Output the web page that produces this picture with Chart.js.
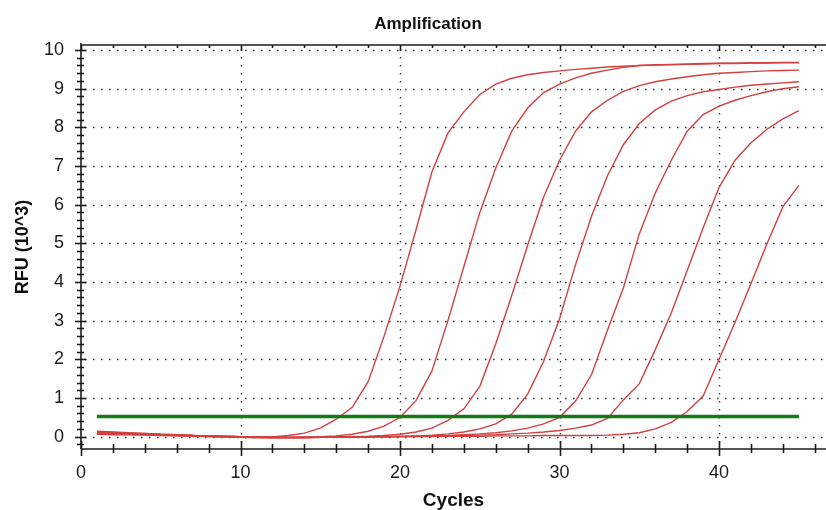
<!DOCTYPE html>
<html>
<head>
<meta charset="utf-8">
<title>Amplification</title>
<script src="https://cdn.jsdelivr.net/npm/chart.js@4.4.1/dist/chart.umd.min.js"></script>
<style>
  html, body { margin: 0; padding: 0; background: #fff; }
  #wrap { width: 826px; height: 510px; }
</style>
</head>
<body>
<div id="wrap"><canvas id="ampChart" width="826" height="510"></canvas></div>
<script>
// cycle numbers
const cycles = [1, 2, 3, 4, 5, 6, 7, 8, 9, 10, 11, 12, 13, 14, 15, 16, 17, 18, 19, 20,
  21, 22, 23, 24, 25, 26, 27, 28, 29, 30, 31, 32, 33, 34, 35, 36, 37, 38, 39, 40,
  41, 42, 43, 44, 45];

// RFU (10^3) per cycle
const sample1 = [0.12, 0.11, 0.09, 0.08, 0.06, 0.05, 0.03, 0.02, 0.01, 0.00,
  -0.01, -0.01, 0.03, 0.09, 0.22, 0.45, 0.76, 1.42, 2.60, 3.90,
  5.35, 6.85, 7.85, 8.40, 8.85, 9.12, 9.27, 9.36, 9.42, 9.46,
  9.50, 9.53, 9.56, 9.58, 9.60, 9.61, 9.62, 9.63, 9.64, 9.65,
  9.65, 9.66, 9.66, 9.67, 9.67];
const sample2 = [0.10, 0.09, 0.08, 0.07, 0.05, 0.04, 0.03, 0.01, 0.00, -0.01,
  -0.02, -0.02, -0.02, -0.01, 0.00, 0.02, 0.06, 0.14, 0.27, 0.50,
  0.93, 1.70, 3.00, 4.40, 5.80, 6.95, 7.90, 8.50, 8.90, 9.12,
  9.28, 9.40, 9.48, 9.55, 9.60, 9.62, 9.63, 9.64, 9.65, 9.66,
  9.66, 9.67, 9.67, 9.68, 9.68];
const sample3 = [0.08, 0.07, 0.06, 0.05, 0.04, 0.03, 0.02, 0.00, -0.01, -0.02,
  -0.03, -0.03, -0.03, -0.03, -0.02, -0.01, 0.00, 0.01, 0.03, 0.06,
  0.12, 0.22, 0.42, 0.72, 1.30, 2.40, 3.65, 4.95, 6.20, 7.15,
  7.90, 8.40, 8.70, 8.93, 9.08, 9.18, 9.25, 9.31, 9.36, 9.40,
  9.42, 9.44, 9.46, 9.47, 9.48];
const sample4 = [0.14, 0.12, 0.10, 0.08, 0.06, 0.05, 0.03, 0.02, 0.01, 0.00,
  -0.01, -0.02, -0.02, -0.02, -0.02, -0.01, -0.01, 0.00, 0.00, 0.01,
  0.02, 0.04, 0.07, 0.12, 0.20, 0.33, 0.58, 1.10, 1.95, 3.05,
  4.45, 5.70, 6.75, 7.55, 8.10, 8.45, 8.68, 8.82, 8.92, 8.98,
  9.04, 9.09, 9.12, 9.15, 9.18];
const sample5 = [0.06, 0.05, 0.05, 0.04, 0.03, 0.02, 0.01, 0.00, -0.01, -0.02,
  -0.02, -0.03, -0.03, -0.03, -0.02, -0.02, -0.01, -0.01, 0.00, 0.00,
  0.01, 0.02, 0.03, 0.05, 0.07, 0.10, 0.15, 0.22, 0.33, 0.50,
  0.92, 1.60, 2.75, 3.85, 5.25, 6.30, 7.15, 7.90, 8.33, 8.55,
  8.70, 8.82, 8.92, 9.00, 9.05];
const sample6 = [0.10, 0.09, 0.07, 0.06, 0.05, 0.03, 0.02, 0.01, 0.00, -0.01,
  -0.02, -0.02, -0.02, -0.02, -0.02, -0.01, -0.01, 0.00, 0.00, 0.00,
  0.01, 0.01, 0.02, 0.03, 0.04, 0.05, 0.07, 0.09, 0.12, 0.16,
  0.22, 0.30, 0.47, 0.95, 1.37, 2.25, 3.20, 4.30, 5.40, 6.45,
  7.15, 7.60, 7.95, 8.22, 8.43];
const sample7 = [0.09, 0.08, 0.07, 0.06, 0.05, 0.04, 0.03, 0.02, 0.01, 0.00,
  -0.01, -0.01, -0.02, -0.02, -0.02, -0.02, -0.01, -0.01, -0.01, 0.00,
  0.00, 0.00, 0.01, 0.01, 0.01, 0.02, 0.02, 0.02, 0.03, 0.03,
  0.03, 0.03, 0.04, 0.06, 0.10, 0.20, 0.37, 0.65, 1.05, 2.00,
  2.96, 3.96, 4.99, 5.95, 6.50];

const samples = [sample1, sample2, sample3, sample4, sample5, sample6, sample7];

// threshold line
const thresholdLevel = 0.52;
const thresholdRange = [1, 45];

// axis ticks
const xTickLabels = [0, 10, 20, 30, 40];
const yTickLabels = [0, 1, 2, 3, 4, 5, 6, 7, 8, 9, 10];

const FONT = "'Liberation Sans', Arial, Helvetica, sans-serif";
const RED = 'rgb(210, 64, 64)';
const GREEN = 'rgb(18, 122, 22)';
const INK = '#1c1c1c';

function toPoints(values) {
  return values.map((v, i) => ({ x: cycles[i], y: v }));
}

// dotted grid, axis lines, little ruler ticks and the chart title
const axisFrame = {
  id: 'axisFrame',
  beforeDatasetsDraw(chart) {
    const { ctx, chartArea: a, scales: { x, y } } = chart;
    ctx.save();
    ctx.strokeStyle = '#3a3a3a';
    ctx.lineWidth = 1.4;
    ctx.setLineDash([1.6, 6.4]);
    yTickLabels.forEach(v => {
      const py = Math.round(y.getPixelForValue(v)) + 0.5;
      ctx.beginPath();
      ctx.moveTo(a.left + 4, py);
      ctx.lineTo(a.right, py);
      ctx.stroke();
    });
    xTickLabels.forEach(v => {
      if (v === 0) return;
      const px = Math.round(x.getPixelForValue(v)) + 0.5;
      ctx.beginPath();
      ctx.moveTo(px, a.top + 4);
      ctx.lineTo(px, a.bottom);
      ctx.stroke();
    });
    ctx.restore();
  },
  afterDatasetsDraw(chart) {
    const { ctx, chartArea: a, scales: { x, y } } = chart;
    ctx.save();
    ctx.strokeStyle = INK;
    ctx.lineWidth = 1.6;
    ctx.setLineDash([]);
    const seg = (x1, y1, x2, y2) => {
      ctx.beginPath();
      ctx.moveTo(x1, y1);
      ctx.lineTo(x2, y2);
      ctx.stroke();
    };
    // frame
    seg(a.left, a.top - 2, a.left, a.bottom);
    seg(a.left, a.bottom, a.right, a.bottom);
    seg(a.left, a.top, a.right, a.top);

    // y ruler, every 0.2
    for (let k = -1; k <= 50; k++) {
      const v = k / 5;
      const py = Math.round(y.getPixelForValue(v)) + 0.5;
      const major = k % 5 === 0;
      seg(a.left - (major ? 6 : 4), py, a.left + (major ? 5 : 3), py);
    }
    // x ruler, every 2 cycles
    for (let v = 0; v <= 46; v += 2) {
      const px = Math.round(x.getPixelForValue(v)) + 0.5;
      const major = v % 10 === 0;
      seg(px, a.bottom - (major ? 8 : 5), px, a.bottom + (major ? 7 : 4));
      seg(px, a.top, px, a.top + (major ? 6 : 3));
    }

    // title sits a bit right of the canvas centre
    ctx.fillStyle = '#111';
    ctx.font = 'bold 17px ' + FONT;
    ctx.textAlign = 'center';
    ctx.textBaseline = 'alphabetic';
    ctx.fillText('Amplification', 428, 28.5);
    ctx.restore();
  }
};

const datasets = [{
  label: 'Threshold',
  data: [{ x: thresholdRange[0], y: thresholdLevel }, { x: thresholdRange[1], y: thresholdLevel }],
  borderColor: GREEN,
  borderWidth: 3.5,
  pointRadius: 0
}];
samples.forEach((s, i) => {
  datasets.push({
    label: 'Sample ' + (i + 1),
    data: toPoints(s),
    borderColor: RED,
    borderWidth: 1.4,
    pointRadius: 0,
    tension: 0
  });
});

const ctx = document.getElementById('ampChart').getContext('2d');
new Chart(ctx, {
  type: 'line',
  data: { datasets },
  plugins: [axisFrame],
  options: {
    responsive: false,
    devicePixelRatio: 1,
    animation: false,
    layout: { padding: { top: 45, left: 0, right: 0, bottom: 0 } },
    plugins: {
      legend: { display: false },
      tooltip: { enabled: false },
      title: { display: false }
    },
    scales: {
      x: {
        type: 'linear',
        min: 0,
        max: 46.7,
        grid: { display: false, drawTicks: false },
        border: { display: false },
        ticks: {
          stepSize: 10,
          includeBounds: false,
          autoSkip: false,
          maxRotation: 0,
          padding: 13,
          color: INK,
          font: { family: FONT, size: 18 }
        },
        title: {
          display: true,
          text: 'Cycles',
          color: '#111',
          font: { family: FONT, size: 19, weight: 'bold', lineHeight: 1 },
          padding: 0
        },
        afterFit(scale) { scale.height = 61; }
      },
      y: {
        type: 'linear',
        min: -0.32,
        max: 10.13,
        grid: { display: false, drawTicks: false },
        border: { display: false },
        ticks: {
          stepSize: 1,
          includeBounds: false,
          padding: 17,
          color: INK,
          font: { family: FONT, size: 18 }
        },
        title: {
          display: true,
          text: 'RFU (10^3)',
          color: '#111',
          font: { family: FONT, size: 18, weight: 'bold' },
          padding: { top: 12, bottom: 0 }
        },
        afterFit(scale) { scale.width = 81; }
      }
    }
  }
});
</script>
</body>
</html>
